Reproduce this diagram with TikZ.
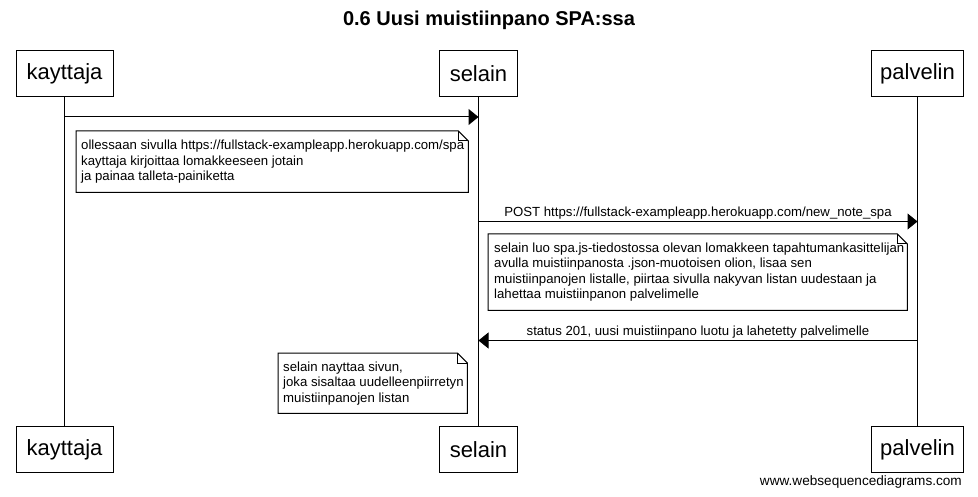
\documentclass[tikz,border=0pt]{standalone}
\usepackage{fontspec}
\setmainfont{Liberation Sans}
\usetikzlibrary{arrows.meta}
\begin{document}
\begin{tikzpicture}[x=1pt,y=-1pt,
  actor/.style={draw, line width=1pt, minimum height=46pt, inner sep=0pt, font=\fontsize{22}{26}\selectfont},
  life/.style={line width=1pt},
  msg/.style={line width=1pt, -{Triangle[length=10pt,width=16pt]}},
  notebox/.style={inner sep=0pt, anchor=north west},
  noteline/.style={line width=1pt, line join=miter},
  notetext/.style={anchor=west, inner sep=0pt, align=left, font=\fontsize{13.2}{15.5}\selectfont},
  lbl/.style={font=\fontsize{13.2}{15}\selectfont, anchor=south, inner sep=2pt},
]
\useasboundingbox (0,0) rectangle (978,497);

% title
\node[font=\fontsize{20}{24}\selectfont\bfseries] (title) at (489,20) {0.6 Uusi muistiinpano SPA:ssa};

% actors
\node[actor, minimum width=97pt] (k1) at (64.5,74) {kayttaja};
\node[actor, minimum width=78pt] (s1) at (478.5,74) {selain};
\node[actor, minimum width=92pt] (p1) at (917.5,74) {palvelin};
\node[actor, minimum width=97pt] (k2) at (64.5,449.5) {kayttaja};
\node[actor, minimum width=78pt] (s2) at (478.5,449.5) {selain};
\node[actor, minimum width=92pt] (p2) at (917.5,449.5) {palvelin};

% lifelines
\draw[life] (k1.south) -- (k2.north);
\draw[life] (s1.south) -- (s2.north);
\draw[life] (p1.south) -- (p2.north);

% message 1
\coordinate (m1a) at (64.5,117);
\coordinate (m1b) at (478.5,117);
\draw[msg] (m1a) -- (m1b);

% note 1
\node[notebox, minimum width=392pt, minimum height=61pt] (n1) at (76,131) {};
\draw[noteline] (n1.north west) -- ([xshift=-10pt]n1.north east) -- ([yshift=-10pt]n1.north east) -- (n1.south east) -- (n1.south west) -- cycle;
\draw[noteline] ([xshift=-10pt]n1.north east) |- ([yshift=-10pt]n1.north east);
\node[notetext] (n1t) at ([xshift=5pt]n1.west) {ollessaan sivulla https://fullstack-exampleapp.herokuapp.com/spa\\kayttaja kirjoittaa lomakkeeseen jotain\\ja painaa talleta-painiketta};

% message 2
\coordinate (m2a) at (478.5,221.5);
\coordinate (m2b) at (917.5,221.5);
\draw[msg] (m2a) -- node[lbl] (l2) {POST https://fullstack-exampleapp.herokuapp.com/new\_note\_spa} (m2b);

% note 2
\node[notebox, minimum width=419pt, minimum height=76pt] (n2) at (488,234) {};
\draw[noteline] (n2.north west) -- ([xshift=-10pt]n2.north east) -- ([yshift=-10pt]n2.north east) -- (n2.south east) -- (n2.south west) -- cycle;
\draw[noteline] ([xshift=-10pt]n2.north east) |- ([yshift=-10pt]n2.north east);
\node[notetext] (n2t) at ([xshift=6pt]n2.west) {selain luo spa.js-tiedostossa olevan lomakkeen tapahtumankasittelijan\\avulla muistiinpanosta .json-muotoisen olion, lisaa sen\\muistiinpanojen listalle, piirtaa sivulla nakyvan listan uudestaan ja\\lahettaa muistiinpanon palvelimelle};

% message 3
\coordinate (m3a) at (917.5,340.5);
\coordinate (m3b) at (478.5,340.5);
\draw[msg] (m3a) -- node[lbl] (l3) {status 201, uusi muistiinpano luotu ja lahetetty palvelimelle} (m3b);

% note 3
\node[notebox, minimum width=189pt, minimum height=60pt] (n3) at (278,353) {};
\draw[noteline] (n3.north west) -- ([xshift=-10pt]n3.north east) -- ([yshift=-10pt]n3.north east) -- (n3.south east) -- (n3.south west) -- cycle;
\draw[noteline] ([xshift=-10pt]n3.north east) |- ([yshift=-10pt]n3.north east);
\node[notetext] (n3t) at ([xshift=5pt]n3.west) {selain nayttaa sivun,\\joka sisaltaa uudelleenpiirretyn\\muistiinpanojen listan};

% watermark
\node[font=\fontsize{13.6}{16}\selectfont, anchor=east, inner sep=0pt] (wm) at (962,482) {www.websequencediagrams.com};
\end{tikzpicture}
\end{document}
